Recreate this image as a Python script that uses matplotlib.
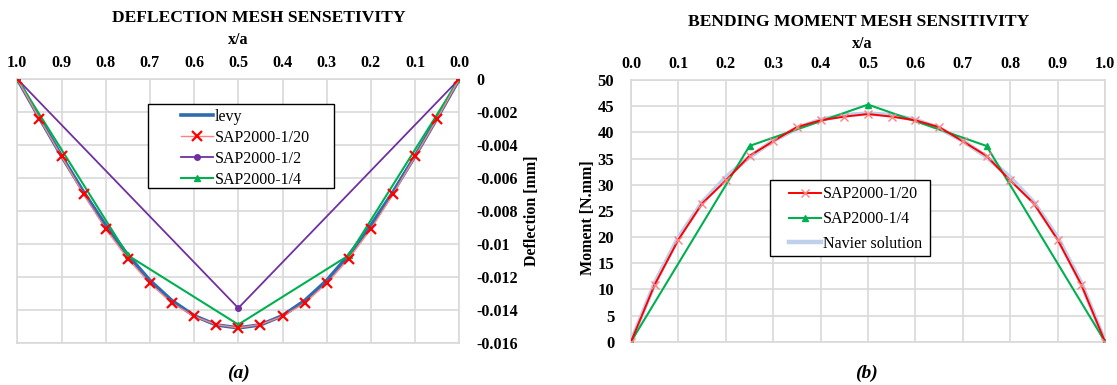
import matplotlib
matplotlib.use("Agg")
import matplotlib.pyplot as plt
from matplotlib.patches import Rectangle
import numpy as np

plt.rcParams['font.family'] = ['Liberation Serif', 'DejaVu Serif']

# ---------------- data ----------------
x20 = [0.0, 0.05, 0.1, 0.15, 0.2, 0.25, 0.3, 0.35, 0.4, 0.45, 0.5,
       0.55, 0.6, 0.65, 0.7, 0.75, 0.8, 0.85, 0.9, 0.95, 1.0]
x2 = [0.0, 0.5, 1.0]
x4 = [0.0, 0.25, 0.5, 0.75, 1.0]

levy = [0.0, -0.00236, -0.00467, -0.00686, -0.00888, -0.01068, -0.01222,
        -0.01345, -0.01436, -0.01492, -0.01510, -0.01492, -0.01436, -0.01345,
        -0.01222, -0.01068, -0.00888, -0.00686, -0.00467, -0.00236, 0.0]
defl_20 = [0.0, -0.0024, -0.0047, -0.0070, -0.0091, -0.0109, -0.0124,
           -0.0136, -0.0144, -0.0149, -0.0151, -0.0149, -0.0144, -0.0136,
           -0.0124, -0.0109, -0.0091, -0.0070, -0.0047, -0.0024, 0.0]
defl_2 = [0.0, -0.0139, 0.0]
defl_4 = [0.0, -0.0107, -0.0149, -0.0107, 0.0]

mom_20 = [0.0, 10.9, 19.5, 26.4, 30.8, 35.5, 38.3, 41.0, 42.3, 43.0, 43.5,
          43.0, 42.3, 41.0, 38.3, 35.5, 30.8, 26.4, 19.5, 10.9, 0.0]
mom_4 = [0.0, 37.4, 45.3, 37.4, 0.0]
navier = [0.0, 11.2, 19.9, 26.6, 31.4, 35.3, 38.4, 40.8, 42.4, 43.3, 43.6,
          43.3, 42.4, 40.8, 38.4, 35.3, 31.4, 26.6, 19.9, 11.2, 0.0]

xticks = [0.0, 0.1, 0.2, 0.3, 0.4, 0.5, 0.6, 0.7, 0.8, 0.9, 1.0]
defl_ticks = [0, -0.002, -0.004, -0.006, -0.008, -0.01, -0.012, -0.014, -0.016]
defl_ticklabels = ['0', '-0.002', '-0.004', '-0.006', '-0.008', '-0.01',
                   '-0.012', '-0.014', '-0.016']
mom_ticks = [0, 5, 10, 15, 20, 25, 30, 35, 40, 45, 50]

# ---------------- figure ----------------
W, H = 1117, 385
fig = plt.figure(figsize=(W / 100, H / 100), dpi=100)

def pos(x0, y0, x1, y1):
    return [x0 / W, 1 - y1 / H, (x1 - x0) / W, (y1 - y0) / H]

def frame(ax, x0, y0, x1, y1):
    r = Rectangle((x0 / W, 1 - y1 / H), (x1 - x0) / W, (y1 - y0) / H,
                  transform=fig.transFigure, facecolor='white',
                  edgecolor='black', lw=1.0, zorder=9, clip_on=False)
    ax.add_artist(r)

grid_c = '#d9d9d9'
tick_fs = 11.5

# ---- left ----
ax1 = fig.add_axes(pos(17.3, 79, 459.3, 342.7))
ax1.plot(x20, levy, color='#2e6cb0', lw=2.6, label='levy', zorder=3)
ax1.plot(x20, defl_20, color='#ff8080', lw=1.0, marker='x', ms=7, mew=1.6,
         mec='#ff0000', mfc='#ff0000', label='SAP2000-1/20', zorder=5)
ax1.plot(x2, defl_2, color='#7030a0', lw=1.3, marker='o', ms=4,
         label='SAP2000-1/2', zorder=4)
ax1.plot(x4, defl_4, color='#00b050', lw=1.5, marker='^', ms=5,
         label='SAP2000-1/4', zorder=4)
ax1.set_xlim(1.0, 0.0)
ax1.set_ylim(-0.016, 0)
ax1.set_xticks(xticks)
ax1.set_xticklabels([f'{v:.1f}' for v in xticks])
ax1.set_yticks(defl_ticks)
ax1.set_yticklabels(defl_ticklabels)
ax1.xaxis.tick_top()
ax1.yaxis.tick_right()
ax1.tick_params(length=0, labelsize=tick_fs, pad=6)
ax1.tick_params(axis='y', pad=12)
for lab in ax1.get_xticklabels() + ax1.get_yticklabels():
    lab.set_fontweight('bold')
ax1.grid(True, color=grid_c, lw=1.2, zorder=0)
for s in ax1.spines.values():
    s.set_color(grid_c)
    s.set_linewidth(1.2)
ax1.set_axisbelow(True)

frame(ax1, 148.3, 104.3, 334, 187.7)
leg1 = ax1.legend(loc='upper left', bbox_to_anchor=(178 / W, 1 - 105.5 / H),
                  bbox_transform=fig.transFigure, frameon=False,
                  prop={'size': 11.5}, handlelength=2.0, labelspacing=0.32,
                  borderpad=0.2, handletextpad=0.1, borderaxespad=0)
leg1.set_zorder(10)

fig.text(259 / W, 1 - 17.5 / H, 'DEFLECTION MESH SENSETIVITY', ha='center',
         va='center', fontsize=12.6, fontweight='bold')
fig.text(238 / W, 1 - 40 / H, 'x/a', ha='center', va='center',
         fontsize=11.5, fontweight='bold')
fig.text(532 / W, 1 - 211 / H, 'Deflection [mm]', ha='center', va='center',
         rotation=90, fontsize=11.5, fontweight='bold')
fig.text(238 / W, 1 - 373 / H, '(a)', ha='center', va='center',
         fontsize=14, fontweight='bold', style='italic')

# ---- right ----
ax2 = fig.add_axes(pos(631, 80, 1105, 341.7))
ax2.plot(x20, navier, color='#bdd0ec', lw=3.2, label='Navier solution',
         zorder=3)
ax2.plot(x20, mom_20, color='#ff0000', lw=1.4, marker='x', ms=6, mew=1.0,
         mec='#ff8080', label='SAP2000-1/20', zorder=5)
ax2.plot(x4, mom_4, color='#00b050', lw=1.5, marker='^', ms=5,
         label='SAP2000-1/4', zorder=4)
ax2.set_xlim(0.0, 1.0)
ax2.set_ylim(0, 50)
ax2.set_xticks(xticks)
ax2.set_xticklabels([f'{v:.1f}' for v in xticks])
ax2.set_yticks(mom_ticks)
ax2.xaxis.tick_top()
ax2.tick_params(length=0, labelsize=tick_fs, pad=6)
ax2.tick_params(axis='y', labelsize=12, pad=12)
for lab in ax2.get_xticklabels() + ax2.get_yticklabels():
    lab.set_fontweight('bold')
ax2.grid(True, color=grid_c, lw=1.2, zorder=0)
for s in ax2.spines.values():
    s.set_color(grid_c)
    s.set_linewidth(1.2)
ax2.set_axisbelow(True)

frame(ax2, 770, 180, 930, 256)
h, l = ax2.get_legend_handles_labels()
order = [1, 2, 0]
leg2 = ax2.legend([h[i] for i in order], [l[i] for i in order],
                  loc='upper left', bbox_to_anchor=(785 / W, 1 - 182.5 / H),
                  bbox_transform=fig.transFigure, frameon=False,
                  prop={'size': 11.5}, handlelength=2.0, labelspacing=0.55,
                  borderpad=0.25, handletextpad=0.1, borderaxespad=0)
leg2.set_zorder(10)

fig.text(859 / W, 1 - 21.5 / H, 'BENDING MOMENT MESH SENSITIVITY',
         ha='center', va='center', fontsize=12.6, fontweight='bold')
fig.text(862 / W, 1 - 44 / H, 'x/a', ha='center', va='center',
         fontsize=11.5, fontweight='bold')
fig.text(588 / W, 1 - 218 / H, 'Moment [N.mm]', ha='center', va='center',
         rotation=90, fontsize=11.5, fontweight='bold')
fig.text(866 / W, 1 - 373 / H, '(b)', ha='center', va='center',
         fontsize=14, fontweight='bold', style='italic')

fig.savefig('out.png', dpi=100)
